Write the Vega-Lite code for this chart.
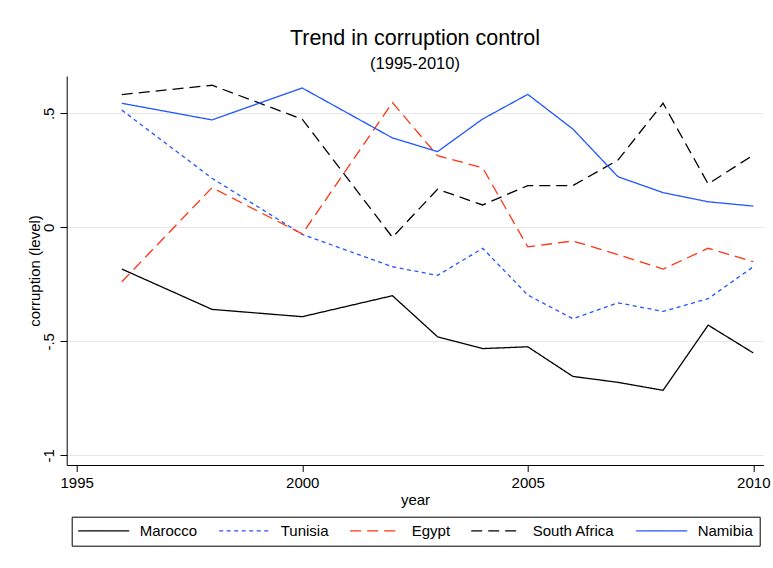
{
  "$schema": "https://vega.github.io/schema/vega-lite/v6.json",
  "autosize": {"type": "none"},
  "width": 696.6,
  "height": 389,
  "padding": {"left": 66.7, "top": 76, "right": 9.7, "bottom": 103},
  "background": "white",
  "title": {
    "text": "Trend in corruption control",
    "subtitle": "(1995-2010)",
    "anchor": "middle",
    "font": "Liberation Sans",
    "fontSize": 21.5,
    "fontWeight": "normal",
    "color": "black",
    "subtitleFont": "Liberation Sans",
    "subtitleFontSize": 16.5,
    "subtitleColor": "black",
    "subtitlePadding": 6,
    "offset": 4
  },
  "data": {
    "values": [
      {"year": 1996, "country": "Marocco", "value": -0.183},
      {"year": 1998, "country": "Marocco", "value": -0.360},
      {"year": 2000, "country": "Marocco", "value": -0.392},
      {"year": 2002, "country": "Marocco", "value": -0.300},
      {"year": 2003, "country": "Marocco", "value": -0.480},
      {"year": 2004, "country": "Marocco", "value": -0.532},
      {"year": 2005, "country": "Marocco", "value": -0.524},
      {"year": 2006, "country": "Marocco", "value": -0.654},
      {"year": 2007, "country": "Marocco", "value": -0.680},
      {"year": 2008, "country": "Marocco", "value": -0.715},
      {"year": 2009, "country": "Marocco", "value": -0.429},
      {"year": 2010, "country": "Marocco", "value": -0.551},

      {"year": 1996, "country": "Tunisia", "value": 0.514},
      {"year": 1998, "country": "Tunisia", "value": 0.215},
      {"year": 2000, "country": "Tunisia", "value": -0.031},
      {"year": 2002, "country": "Tunisia", "value": -0.173},
      {"year": 2003, "country": "Tunisia", "value": -0.211},
      {"year": 2004, "country": "Tunisia", "value": -0.092},
      {"year": 2005, "country": "Tunisia", "value": -0.297},
      {"year": 2006, "country": "Tunisia", "value": -0.401},
      {"year": 2007, "country": "Tunisia", "value": -0.331},
      {"year": 2008, "country": "Tunisia", "value": -0.369},
      {"year": 2009, "country": "Tunisia", "value": -0.313},
      {"year": 2010, "country": "Tunisia", "value": -0.173},

      {"year": 1996, "country": "Egypt", "value": -0.239},
      {"year": 1998, "country": "Egypt", "value": 0.174},
      {"year": 2000, "country": "Egypt", "value": -0.029},
      {"year": 2002, "country": "Egypt", "value": 0.547},
      {"year": 2003, "country": "Egypt", "value": 0.314},
      {"year": 2004, "country": "Egypt", "value": 0.261},
      {"year": 2005, "country": "Egypt", "value": -0.086},
      {"year": 2006, "country": "Egypt", "value": -0.060},
      {"year": 2007, "country": "Egypt", "value": -0.120},
      {"year": 2008, "country": "Egypt", "value": -0.183},
      {"year": 2009, "country": "Egypt", "value": -0.092},
      {"year": 2010, "country": "Egypt", "value": -0.151},

      {"year": 1996, "country": "South Africa", "value": 0.582},
      {"year": 1998, "country": "South Africa", "value": 0.623},
      {"year": 2000, "country": "South Africa", "value": 0.474},
      {"year": 2002, "country": "South Africa", "value": -0.044},
      {"year": 2003, "country": "South Africa", "value": 0.167},
      {"year": 2004, "country": "South Africa", "value": 0.098},
      {"year": 2005, "country": "South Africa", "value": 0.183},
      {"year": 2006, "country": "South Africa", "value": 0.183},
      {"year": 2007, "country": "South Africa", "value": 0.295},
      {"year": 2008, "country": "South Africa", "value": 0.544},
      {"year": 2009, "country": "South Africa", "value": 0.190},
      {"year": 2010, "country": "South Africa", "value": 0.317},

      {"year": 1996, "country": "Namibia", "value": 0.544},
      {"year": 1998, "country": "Namibia", "value": 0.471},
      {"year": 2000, "country": "Namibia", "value": 0.611},
      {"year": 2002, "country": "Namibia", "value": 0.392},
      {"year": 2003, "country": "Namibia", "value": 0.332},
      {"year": 2004, "country": "Namibia", "value": 0.475},
      {"year": 2005, "country": "Namibia", "value": 0.583},
      {"year": 2006, "country": "Namibia", "value": 0.431},
      {"year": 2007, "country": "Namibia", "value": 0.222},
      {"year": 2008, "country": "Namibia", "value": 0.152},
      {"year": 2009, "country": "Namibia", "value": 0.112},
      {"year": 2010, "country": "Namibia", "value": 0.093}
    ]
  },
  "mark": {"type": "line", "strokeWidth": 1.3, "strokeCap": "butt", "strokeJoin": "miter"},
  "encoding": {
    "x": {
      "field": "year",
      "type": "quantitative",
      "title": "year",
      "scale": {"domain": [1994.778, 2010.222], "nice": false, "zero": false},
      "axis": {
        "values": [1995, 2000, 2005, 2010],
        "format": "d",
        "grid": false,
        "tickSize": 6.5,
        "labelPadding": 4,
        "titlePadding": 2
      }
    },
    "y": {
      "field": "value",
      "type": "quantitative",
      "title": "corruption (level)",
      "scale": {"domain": [-1.0425, 0.6636], "nice": false, "zero": false},
      "axis": {
        "values": [-1, -0.5, 0, 0.5],
        "labelExpr": "datum.value == 0.5 ? '.5' : datum.value == 0 ? '0' : datum.value == -0.5 ? '-.5' : '-1'",
        "labelAngle": -90,
        "labelAlign": "center",
        "labelBaseline": "alphabetic",
        "labelPadding": 6.7,
        "tickSize": 6.7,
        "grid": true,
        "titlePadding": -1
      }
    },
    "color": {
      "field": "country",
      "type": "nominal",
      "scale": {
        "domain": ["Marocco", "Tunisia", "Egypt", "South Africa", "Namibia"],
        "range": ["#000000", "#2255ff", "#ff3311", "#000000", "#2255ff"]
      },
      "legend": {
        "title": null,
        "orient": "none",
        "legendX": 5,
        "legendY": 440.7,
        "direction": "horizontal",
        "columns": 5,
        "symbolType": "M-7.5,0H43.5",
        "symbolSize": 4,
        "symbolStrokeWidth": 1.3,
        "labelOffset": 46.5,
        "columnPadding": 18,
        "padding": 6.5,
        "strokeColor": "black",
        "labelFontSize": 15,
        "labelFont": "Liberation Sans",
        "labelColor": "black",
        "labelLimit": 200
      }
    },
    "strokeDash": {
      "field": "country",
      "type": "nominal",
      "scale": {
        "domain": ["Marocco", "Tunisia", "Egypt", "South Africa", "Namibia"],
        "range": [[1, 0], [4, 3.5], [11, 6], [11, 6], [1, 0]]
      },
      "legend": {
        "title": null,
        "orient": "none",
        "legendX": 5,
        "legendY": 440.7,
        "direction": "horizontal",
        "columns": 5,
        "symbolType": "M-7.5,0H43.5",
        "symbolSize": 4,
        "symbolStrokeWidth": 1.3,
        "labelOffset": 46.5,
        "columnPadding": 18,
        "padding": 6.5,
        "strokeColor": "black",
        "labelFontSize": 15,
        "labelFont": "Liberation Sans",
        "labelColor": "black",
        "labelLimit": 200
      }
    }
  },
  "config": {
    "view": {"stroke": null},
    "font": "Liberation Sans",
    "axis": {
      "domainColor": "black",
      "domainWidth": 1,
      "tickColor": "black",
      "tickWidth": 1,
      "gridColor": "#e8e8e8",
      "gridWidth": 1,
      "labelFont": "Liberation Sans",
      "labelFontSize": 15,
      "labelColor": "black",
      "titleFont": "Liberation Sans",
      "titleFontSize": 15,
      "titleFontWeight": "normal",
      "titleColor": "black"
    }
  }
}
